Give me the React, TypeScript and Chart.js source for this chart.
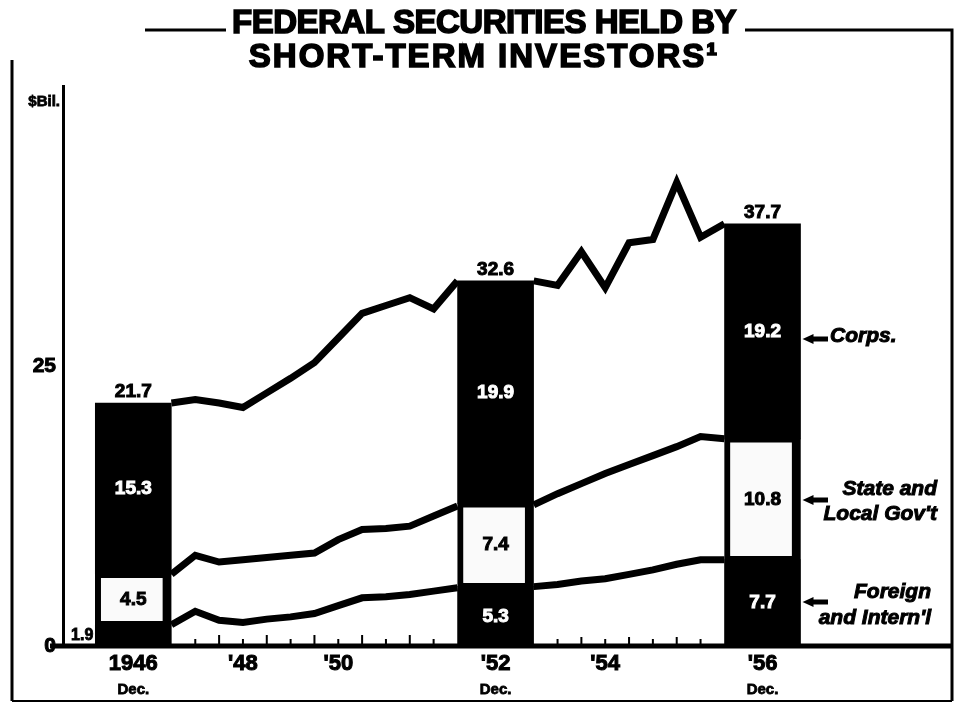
import React, { useEffect, useRef } from 'react';
import { Chart, registerables } from 'chart.js';

Chart.register(...registerables);

// ---------------- data ----------------
const TITLE_LINES = ['FEDERAL SECURITIES HELD BY', 'SHORT-TERM INVESTORS\u00B9'];
const Y_UNIT = '$Bil.';
const Y_TICKS = [0, 25];

// Year-end bars (Dec. 1946, Dec. 1952, Dec. 1956)
const BAR_PERIODS = ['Dec. 1946', 'Dec. 1952', 'Dec. 1956'];
const BAR_HALFYEAR = [0, 12, 20]; // half-years after Dec. 1946
const FOREIGN_BAR = [1.9, 5.3, 7.7];
const STATE_BAR = [4.5, 7.4, 10.8];
const CORPS_BAR = [15.3, 19.9, 19.2];
const TOTAL_BAR = [21.7, 32.6, 37.7];

// Semiannual cumulative levels, Dec. 1946 - Dec. 1952
const PERIODS_A = ['Dec 1946', 'Jun 1947', 'Dec 1947', 'Jun 1948', 'Dec 1948', 'Jun 1949', 'Dec 1949',
  'Jun 1950', 'Dec 1950', 'Jun 1951', 'Dec 1951', 'Jun 1952', 'Dec 1952'];
const TOTAL_A = [21.7, 22.0, 21.7, 21.3, 22.6, 23.9, 25.3, 27.5, 29.7, 30.4, 31.1, 30.1, 32.6];
const STATE_CUM_A = [6.4, 8.1, 7.5, 7.7, 7.9, 8.1, 8.3, 9.5, 10.4, 10.5, 10.7, 11.6, 12.5];
const FOREIGN_A = [1.9, 3.1, 2.3, 2.1, 2.4, 2.6, 2.9, 3.6, 4.3, 4.4, 4.6, 4.9, 5.2];

// Semiannual cumulative levels, Dec. 1952 - Dec. 1956
const PERIODS_B = ['Dec 1952', 'Jun 1953', 'Dec 1953', 'Jun 1954', 'Dec 1954', 'Jun 1955', 'Dec 1955',
  'Jun 1956', 'Dec 1956'];
const TOTAL_B = [32.6, 32.2, 35.2, 32.0, 36.0, 36.3, 41.4, 36.5, 37.7];
const STATE_CUM_B = [12.6, 13.6, 14.5, 15.4, 16.2, 17.0, 17.8, 18.7, 18.5];
const FOREIGN_B = [5.3, 5.5, 5.8, 6.0, 6.4, 6.8, 7.3, 7.7, 7.7];

const X_TICK_LABELS = ['1946', "'48", "'50", "'52", "'54", "'56"];
const X_TICK_HALFYEAR = [0, 3, 7, 12, 15, 20];
const X_TICK_BAR = [0, -1, -1, 1, -1, 2];
const X_SUB_LABEL = 'Dec.';

const SERIES_NOTES = [['Corps.'], ['State and', "Local Gov't"], ['Foreign', "and Intern'l"]];

// ---------------- layout constants ----------------
const LEAD = 1.35;   // axis units before first bar
const BAR_W = 3.2;   // bar width in half-year units
const X_MAX = 37.3;
const FONT = '"Liberation Sans", Arial, Helvetica, sans-serif';

const SEG_START = [0, 12];
const posLine = (seg: number, h: number) => LEAD + BAR_W * (seg + 1) + h;
const posBar = (k: number) => LEAD + BAR_W * k + BAR_W / 2 + BAR_HALFYEAR[k];
const posTick = (i: number) =>
  X_TICK_BAR[i] >= 0 ? posBar(X_TICK_BAR[i]) : posLine(X_TICK_HALFYEAR[i] < 12 ? 0 : 1, X_TICK_HALFYEAR[i]);

const lineData = (a: number[], b: number[]) => [
  ...a.map((v, i) => ({ x: posLine(0, SEG_START[0] + i), y: v })),
  { x: posBar(1), y: null },
  ...b.map((v, j) => ({ x: posLine(1, SEG_START[1] + j), y: v })),
];
const barData = (arr: number[]) => arr.map((v, k) => ({ x: posBar(k), y: v }));

function heavyText(ctx: CanvasRenderingContext2D, text: string, x: number, y: number, stroke = 1.2) {
  ctx.fillText(text, x, y);
  if (stroke > 0) {
    ctx.lineWidth = stroke;
    ctx.strokeText(text, x, y);
  }
}

const decorPlugin = {
  id: 'decor',
  afterDraw(chart: any) {
    const { ctx, chartArea, scales } = chart;
    const xs = scales.x;
    const base = chartArea.bottom;
    ctx.save();
    ctx.fillStyle = '#000';
    ctx.strokeStyle = '#000';

    // frame
    ctx.lineWidth = 3;
    ctx.beginPath();
    ctx.moveTo(145, 30); ctx.lineTo(226, 30);
    ctx.moveTo(745, 30); ctx.lineTo(952, 30); ctx.lineTo(952, 701);
    ctx.moveTo(12, 60); ctx.lineTo(12, 701);
    ctx.stroke();
    ctx.lineWidth = 2;
    ctx.beginPath(); ctx.moveTo(12, 701); ctx.lineTo(952, 701); ctx.stroke();

    // title
    ctx.textAlign = 'center';
    ctx.textBaseline = 'alphabetic';
    ctx.font = `bold 33px ${FONT}`;
    ctx.letterSpacing = '-0.5px';
    heavyText(ctx, TITLE_LINES[0], 484, 33, 1.6);
    ctx.letterSpacing = '2px';
    heavyText(ctx, TITLE_LINES[1], 484, 67, 1.6);
    ctx.letterSpacing = '0px';

    // unit label
    ctx.textAlign = 'right';
    ctx.textBaseline = 'middle';
    ctx.font = `bold 15px ${FONT}`;
    heavyText(ctx, Y_UNIT, 60, 102, 0.8);

    // x axis line
    ctx.lineWidth = 5;
    ctx.beginPath(); ctx.moveTo(50, base); ctx.lineTo(chartArea.right, base); ctx.stroke();

    // half-year tick marks
    ctx.lineWidth = 2;
    ctx.beginPath();
    for (let h = 1; h < 12; h++) {
      const px = xs.getPixelForValue(posLine(0, h));
      const len = h % 2 === 0 ? 9 : 5;
      ctx.moveTo(px, base - 2); ctx.lineTo(px, base - 2 - len);
    }
    for (let h = 13; h < 20; h++) {
      const px = xs.getPixelForValue(posLine(1, h));
      const len = h % 2 === 0 ? 7 : 5;
      ctx.moveTo(px, base - 2); ctx.lineTo(px, base - 2 - len);
    }
    ctx.stroke();

    // bar labels
    const metaF = chart.getDatasetMeta(0).data;
    const metaS = chart.getDatasetMeta(1).data;
    const metaC = chart.getDatasetMeta(2).data;
    ctx.textAlign = 'center';
    ctx.textBaseline = 'middle';
    ctx.font = `bold 19px ${FONT}`;
    for (let k = 0; k < BAR_PERIODS.length; k++) {
      const f = metaF[k], s = metaS[k], c = metaC[k];
      // corps
      ctx.fillStyle = '#fff'; ctx.strokeStyle = '#fff';
      heavyText(ctx, CORPS_BAR[k].toFixed(1), c.x, (c.y + c.base) / 2, 1);
      // state
      ctx.fillStyle = '#000'; ctx.strokeStyle = '#000';
      heavyText(ctx, STATE_BAR[k].toFixed(1), s.x, (s.y + s.base) / 2, 1);
      // foreign
      if (f.base - f.y > 30) {
        ctx.fillStyle = '#fff'; ctx.strokeStyle = '#fff';
        heavyText(ctx, FOREIGN_BAR[k].toFixed(1), f.x, (f.y + f.base) / 2, 1);
      } else {
        ctx.fillStyle = '#000'; ctx.strokeStyle = '#000';
        ctx.textAlign = 'right';
        ctx.font = `bold 16px ${FONT}`;
        heavyText(ctx, FOREIGN_BAR[k].toFixed(1), f.x - f.width / 2 - 2, (f.y + f.base) / 2, 0.8);
        ctx.textAlign = 'center';
        ctx.font = `bold 19px ${FONT}`;
      }
      // total
      ctx.fillStyle = '#000'; ctx.strokeStyle = '#000';
      heavyText(ctx, TOTAL_BAR[k].toFixed(1), c.x, c.y - 11, 1);
    }

    // series notes with arrows, next to the last bar
    const last = BAR_PERIODS.length - 1;
    const segs = [metaC[last], metaS[last], metaF[last]];
    const arrowY = [339, 500, 602];
    const noteY = [[336], [489, 514], [592, 618]];
    const noteX = [830, 937, 931];
    const align: CanvasTextAlign[] = ['left', 'right', 'right'];
    ctx.font = `italic bold 21px ${FONT}`;
    ctx.fillStyle = '#000'; ctx.strokeStyle = '#000';
    for (let n = 0; n < 3; n++) {
      const startX = segs[n].x + segs[n].width / 2 + 2;
      const ay = arrowY[n];
      ctx.beginPath();
      ctx.moveTo(startX, ay);
      ctx.lineTo(startX + 11, ay - 5);
      ctx.lineTo(startX + 11, ay + 5);
      ctx.closePath();
      ctx.fill();
      ctx.lineWidth = 5;
      ctx.beginPath(); ctx.moveTo(startX + 9, ay); ctx.lineTo(828, ay); ctx.stroke();
      ctx.textAlign = align[n];
      SERIES_NOTES[n].forEach((t, li) => heavyText(ctx, t, noteX[n], noteY[n][li], 1));
    }
    ctx.restore();
  },
};

export default function App() {
  const ref = useRef<HTMLCanvasElement>(null);
  useEffect(() => {
    if (!ref.current) return;
    const barCommon = { type: 'bar' as const, stack: 'bars', barThickness: 76, xAxisID: 'x', yAxisID: 'y' };
    const lineCommon = {
      type: 'line' as const, borderColor: '#000', borderWidth: 7, pointRadius: 0, fill: false,
      tension: 0, spanGaps: false, borderJoinStyle: 'miter' as const, borderCapStyle: 'butt' as const,
      xAxisID: 'x', yAxisID: 'y',
    };
    const chart = new Chart(ref.current, {
      type: 'bar',
      data: {
        datasets: [
          { ...barCommon, label: "Foreign and Intern'l", data: barData(FOREIGN_BAR), backgroundColor: '#000', borderWidth: 0 },
          {
            ...barCommon, label: "State and Local Gov't", data: barData(STATE_BAR), backgroundColor: '#fafafa',
            borderColor: '#000', borderWidth: { left: 6, right: 9, top: 4, bottom: 4 }, borderSkipped: false,
          },
          { ...barCommon, label: 'Corps.', data: barData(CORPS_BAR), backgroundColor: '#000', borderWidth: 0 },
          { ...lineCommon, label: 'Total', stack: 'l1', data: lineData(TOTAL_A, TOTAL_B) },
          { ...lineCommon, label: 'State+Foreign', stack: 'l2', data: lineData(STATE_CUM_A, STATE_CUM_B) },
          { ...lineCommon, label: 'Foreign', stack: 'l3', data: lineData(FOREIGN_A, FOREIGN_B) },
        ] as any,
      },
      options: {
        animation: false,
        responsive: true,
        maintainAspectRatio: false,
        layout: { padding: { top: 86, right: 12, left: 0, bottom: 0 } },
        plugins: { legend: { display: false }, tooltip: { enabled: false }, title: { display: false } },
        scales: {
          x: {
            type: 'linear', min: 0, max: X_MAX, offset: false, stacked: true, weight: 0,
            grid: { display: false, drawTicks: false }, border: { display: false },
            afterBuildTicks: (s: any) => { s.ticks = X_TICK_LABELS.map((_, i) => ({ value: posTick(i) })); },
            afterFit: (s: any) => { s.height = 30; },
            ticks: {
              autoSkip: false, maxRotation: 0, padding: 5, color: '#000',
              font: { family: FONT, size: 22, weight: 'bold' },
              textStrokeColor: '#000', textStrokeWidth: 1,
              callback: (_v: any, i: number) => X_TICK_LABELS[i],
            },
          },
          x2: {
            type: 'linear', position: 'bottom', min: 0, max: X_MAX, offset: false, weight: 1,
            grid: { display: false, drawTicks: false }, border: { display: false },
            afterBuildTicks: (s: any) => { s.ticks = BAR_PERIODS.map((_, k) => ({ value: posBar(k) })); },
            afterFit: (s: any) => { s.height = 31; },
            ticks: {
              autoSkip: false, maxRotation: 0, padding: 5, color: '#000',
              font: { family: FONT, size: 15, weight: 'bold' },
              textStrokeColor: '#000', textStrokeWidth: 0.8,
              callback: () => X_SUB_LABEL,
            },
          },
          y: {
            type: 'linear', min: 0, max: 50, stacked: true,
            grid: { display: false, drawTicks: false },
            border: { display: true, color: '#000', width: 3 },
            afterBuildTicks: (s: any) => { s.ticks = Y_TICKS.map((v) => ({ value: v })); },
            afterFit: (s: any) => { s.width = 63; },
            ticks: {
              padding: 7, color: '#000', font: { family: FONT, size: 21, weight: 'bold' },
              textStrokeColor: '#000', textStrokeWidth: 1,
              callback: (v: any) => String(v),
            },
          },
        } as any,
      },
      plugins: [decorPlugin],
    });
    return () => chart.destroy();
  }, []);

  return (
    <div style={{ position: 'fixed', left: 0, top: 0, width: 964, height: 707, background: '#fff' }}>
      <canvas ref={ref} />
    </div>
  );
}
